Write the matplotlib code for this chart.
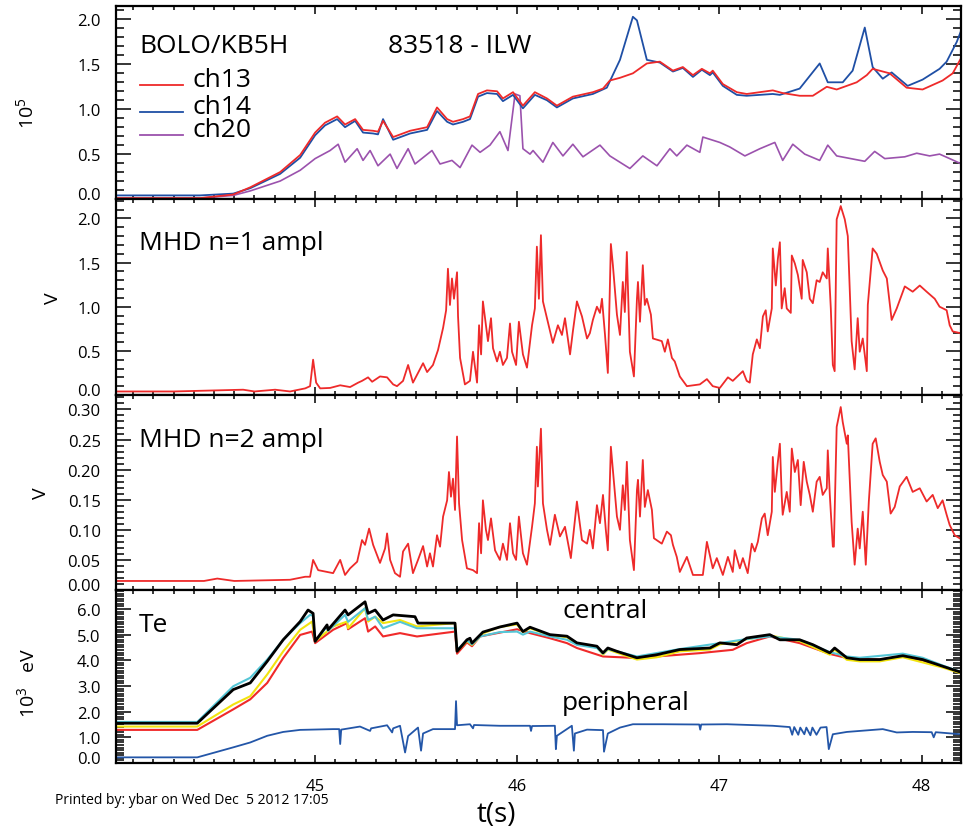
import numpy as np
import matplotlib
matplotlib.use("Agg")
import matplotlib.pyplot as plt
from matplotlib.ticker import MultipleLocator, FormatStrFormatter

plt.rcParams['font.family'] = ['Open Sans', 'DejaVu Sans']
plt.rcParams['mathtext.fontset'] = 'custom'
plt.rcParams['mathtext.rm'] = 'Open Sans'

# ---------------- bolometer channels (units of 1e5) ----------------
ch13_t = [44.016, 44.43, 44.595, 44.679, 44.827, 44.926, 45.0, 45.049, 45.109, 45.148, 45.198,
          45.237, 45.287, 45.311, 45.336, 45.386, 45.47, 45.554, 45.603, 45.653, 45.682, 45.732,
          45.766, 45.806, 45.85, 45.9, 45.929, 45.979, 46.028, 46.087, 46.147, 46.196, 46.275,
          46.374, 46.424, 46.458, 46.508, 46.572, 46.641, 46.705, 46.77, 46.819, 46.869, 46.913,
          46.953, 46.967, 47.017, 47.086, 47.135, 47.264, 47.313, 47.397, 47.462, 47.531, 47.58,
          47.679, 47.729, 47.758, 47.842, 47.926, 48.005, 48.104, 48.154, 48.193]
ch13_v = [0.01, 0.01, 0.05, 0.13, 0.30, 0.49, 0.74, 0.85, 0.92, 0.83, 0.89,
          0.77, 0.76, 0.75, 0.87, 0.69, 0.76, 0.80, 1.02, 0.89, 0.86, 0.89,
          0.92, 1.17, 1.21, 1.20, 1.12, 1.19, 1.04, 1.19, 1.12, 1.04, 1.14,
          1.19, 1.23, 1.32, 1.35, 1.40, 1.51, 1.53, 1.43, 1.47, 1.38, 1.45,
          1.40, 1.43, 1.28, 1.19, 1.17, 1.21, 1.18, 1.15, 1.15, 1.25, 1.22,
          1.30, 1.38, 1.45, 1.40, 1.24, 1.22, 1.32, 1.40, 1.56]

ch14_t = [44.016, 44.43, 44.595, 44.679, 44.827, 44.926, 45.0, 45.049, 45.109, 45.148, 45.198,
          45.237, 45.287, 45.311, 45.336, 45.386, 45.47, 45.554, 45.603, 45.653, 45.682, 45.732,
          45.766, 45.806, 45.85, 45.9, 45.929, 45.979, 46.028, 46.087, 46.147, 46.196, 46.275,
          46.374, 46.443, 46.508, 46.572, 46.592, 46.641, 46.705, 46.77, 46.819, 46.869, 46.913,
          46.953, 46.967, 47.017, 47.086, 47.135, 47.264, 47.299, 47.397, 47.496, 47.536, 47.61,
          47.659, 47.719, 47.758, 47.808, 47.852, 47.931, 48.005, 48.089, 48.124, 48.174, 48.193]
ch14_v = [0.04, 0.04, 0.06, 0.12, 0.28, 0.46, 0.71, 0.82, 0.89, 0.80, 0.87,
          0.74, 0.73, 0.72, 0.89, 0.66, 0.73, 0.77, 0.98, 0.86, 0.83, 0.86,
          0.89, 1.14, 1.18, 1.17, 1.09, 1.16, 1.01, 1.16, 1.10, 1.02, 1.12,
          1.17, 1.24, 1.55, 2.03, 1.99, 1.55, 1.52, 1.42, 1.46, 1.36, 1.44,
          1.38, 1.41, 1.26, 1.16, 1.15, 1.17, 1.16, 1.23, 1.51, 1.30, 1.30,
          1.43, 1.91, 1.47, 1.34, 1.41, 1.26, 1.33, 1.45, 1.53, 1.75, 1.86]

ch20_t = [44.016, 44.43, 44.595, 44.679, 44.827, 44.926, 45.0, 45.074, 45.114, 45.148, 45.208,
          45.237, 45.272, 45.311, 45.371, 45.405, 45.46, 45.494, 45.578, 45.618, 45.677, 45.717,
          45.776, 45.816, 45.865, 45.914, 45.954, 45.989, 46.013, 46.028, 46.063, 46.078, 46.127,
          46.176, 46.226, 46.275, 46.325, 46.409, 46.458, 46.557, 46.621, 46.691, 46.755, 46.789,
          46.839, 46.903, 46.918, 47.002, 47.051, 47.126, 47.2, 47.274, 47.313, 47.363, 47.422,
          47.496, 47.536, 47.58, 47.719, 47.768, 47.818, 47.917, 47.976, 48.04, 48.089, 48.139, 48.188]
ch20_v = [0.01, 0.01, 0.04, 0.09, 0.20, 0.32, 0.45, 0.54, 0.61, 0.41, 0.56,
          0.43, 0.54, 0.37, 0.50, 0.34, 0.56, 0.39, 0.54, 0.39, 0.43, 0.35,
          0.60, 0.52, 0.60, 0.75, 0.54, 1.17, 1.15, 0.56, 0.50, 0.54, 0.41,
          0.63, 0.48, 0.61, 0.47, 0.60, 0.48, 0.34, 0.48, 0.37, 0.56, 0.48,
          0.60, 0.52, 0.69, 0.63, 0.58, 0.48, 0.56, 0.63, 0.43, 0.61, 0.50,
          0.43, 0.60, 0.48, 0.42, 0.53, 0.45, 0.47, 0.51, 0.48, 0.50, 0.45, 0.40]

# ---------------- MHD n=1 amplitude (V) ----------------
n1_t = [44.016, 44.3, 44.644, 44.7, 44.802, 44.876, 44.951, 44.975, 44.99, 45.005, 45.025,
        45.074, 45.124, 45.173, 45.213, 45.232, 45.262, 45.282, 45.321, 45.356, 45.386, 45.405,
        45.435, 45.46, 45.484, 45.534, 45.554, 45.583, 45.608, 45.633, 45.648, 45.657, 45.667,
        45.677, 45.687, 45.702, 45.707, 45.717, 45.741, 45.766, 45.781, 45.801, 45.811, 45.821,
        45.83, 45.845, 45.855, 45.87, 45.88, 45.9, 45.914, 45.929, 45.949, 45.964, 45.974,
        45.994, 46.008, 46.028, 46.048, 46.073, 46.087, 46.097, 46.107, 46.117, 46.127, 46.147,
        46.176, 46.201, 46.221, 46.236, 46.261, 46.275, 46.295, 46.32, 46.345, 46.359, 46.374,
        46.394, 46.409, 46.419, 46.434, 46.448, 46.463, 46.473, 46.493, 46.508, 46.522, 46.532,
        46.542, 46.557, 46.577, 46.592, 46.597, 46.607, 46.621, 46.631, 46.641, 46.661, 46.671,
        46.715, 46.73, 46.745, 46.765, 46.779, 46.804, 46.839, 46.903, 46.938, 46.967, 47.002,
        47.042, 47.066, 47.116, 47.135, 47.15, 47.165, 47.185, 47.2, 47.215, 47.229, 47.239,
        47.259, 47.264, 47.279, 47.289, 47.299, 47.308, 47.323, 47.333, 47.353, 47.358, 47.373,
        47.388, 47.407, 47.412, 47.432, 47.447, 47.462, 47.481, 47.496, 47.511, 47.531, 47.536,
        47.551, 47.561, 47.57, 47.58, 47.6, 47.62, 47.635, 47.654, 47.669, 47.684, 47.694,
        47.709, 47.729, 47.734, 47.758, 47.778, 47.808, 47.828, 47.852, 47.877, 47.917, 47.956,
        47.991, 48.025, 48.065, 48.089, 48.124, 48.139, 48.154, 48.193]
n1_v = [0.04, 0.04, 0.06, 0.04, 0.06, 0.04, 0.075, 0.10, 0.40, 0.14, 0.075,
        0.08, 0.11, 0.09, 0.14, 0.16, 0.20, 0.15, 0.21, 0.20, 0.12, 0.10,
        0.16, 0.34, 0.14, 0.36, 0.26, 0.34, 0.51, 0.76, 0.96, 1.43, 1.02,
        1.32, 1.09, 1.39, 0.89, 0.42, 0.12, 0.16, 0.49, 0.14, 0.79, 0.46,
        1.06, 0.79, 0.61, 0.87, 0.53, 0.38, 0.49, 0.34, 0.42, 0.81, 0.49,
        0.34, 0.83, 0.46, 0.31, 0.79, 0.98, 1.68, 1.09, 1.81, 1.06, 0.87,
        0.59, 0.79, 0.68, 0.87, 0.46, 0.72, 1.06, 0.89, 0.64, 0.70, 0.85,
        1.00, 0.93, 1.09, 0.68, 0.25, 1.71, 1.47, 0.91, 0.68, 1.28, 0.94,
        1.62, 0.49, 0.21, 1.09, 1.28, 0.83, 1.47, 1.02, 1.09, 0.91, 0.64,
        0.61, 0.49, 0.63, 0.42, 0.38, 0.21, 0.10, 0.12, 0.18, 0.10, 0.08,
        0.20, 0.16, 0.27, 0.16, 0.14, 0.46, 0.63, 0.53, 0.89, 0.96, 0.72,
        0.98, 1.66, 1.24, 1.54, 1.73, 0.98, 1.21, 0.98, 0.93, 1.58, 1.49,
        1.36, 1.09, 1.53, 1.39, 1.09, 1.04, 1.30, 1.28, 1.39, 1.32, 1.66,
        0.98, 0.34, 0.27, 1.99, 2.14, 1.99, 1.80, 0.61, 0.29, 0.87, 0.49,
        0.64, 0.27, 1.02, 1.66, 1.60, 1.41, 1.32, 0.85, 0.98, 1.23, 1.17,
        1.24, 1.17, 1.09, 1.00, 0.96, 0.79, 0.72, 0.70]

# ---------------- MHD n=2 amplitude (V) ----------------
n2_t = [44.016, 44.45, 44.516, 44.6, 44.876, 44.951, 44.975, 44.99, 45.015, 45.089, 45.124,
        45.148, 45.173, 45.208, 45.232, 45.247, 45.267, 45.287, 45.321, 45.346, 45.356, 45.371,
        45.395, 45.42, 45.435, 45.46, 45.484, 45.509, 45.534, 45.554, 45.568, 45.583, 45.603,
        45.618, 45.633, 45.653, 45.662, 45.672, 45.682, 45.692, 45.702, 45.712, 45.727, 45.751,
        45.781, 45.801, 45.811, 45.821, 45.83, 45.845, 45.855, 45.87, 45.89, 45.914, 45.929,
        45.949, 45.964, 45.979, 45.994, 46.008, 46.028, 46.048, 46.073, 46.087, 46.097, 46.102,
        46.117, 46.127, 46.147, 46.162, 46.186, 46.211, 46.236, 46.265, 46.295, 46.32, 46.345,
        46.359, 46.374, 46.394, 46.409, 46.424, 46.438, 46.448, 46.463, 46.473, 46.493, 46.508,
        46.522, 46.532, 46.542, 46.557, 46.577, 46.592, 46.597, 46.607, 46.621, 46.631, 46.646,
        46.666, 46.676, 46.715, 46.74, 46.76, 46.77, 46.789, 46.804, 46.839, 46.869, 46.918,
        46.938, 46.967, 46.987, 47.017, 47.042, 47.066, 47.076, 47.101, 47.116, 47.14, 47.16,
        47.175, 47.19, 47.21, 47.224, 47.239, 47.259, 47.264, 47.274, 47.289, 47.299, 47.308,
        47.313, 47.333, 47.348, 47.358, 47.373, 47.388, 47.402, 47.417, 47.432, 47.447, 47.462,
        47.481, 47.496, 47.511, 47.531, 47.536, 47.546, 47.561, 47.566, 47.58, 47.6, 47.61,
        47.63, 47.635, 47.654, 47.669, 47.684, 47.694, 47.709, 47.724, 47.739, 47.758, 47.773,
        47.793, 47.808, 47.828, 47.847, 47.867, 47.892, 47.926, 47.956, 47.991, 48.025, 48.055,
        48.08, 48.104, 48.124, 48.139, 48.164, 48.188]
n2_v = [0.015, 0.015, 0.019, 0.015, 0.017, 0.022, 0.022, 0.05, 0.033, 0.028, 0.05,
        0.025, 0.036, 0.047, 0.083, 0.075, 0.102, 0.075, 0.045, 0.069, 0.094, 0.05,
        0.028, 0.022, 0.064, 0.077, 0.028, 0.05, 0.073, 0.039, 0.061, 0.039, 0.091,
        0.072, 0.122, 0.149, 0.196, 0.155, 0.185, 0.133, 0.255, 0.144, 0.083, 0.036,
        0.033, 0.028, 0.111, 0.061, 0.149, 0.10, 0.083, 0.119, 0.066, 0.05, 0.077,
        0.05, 0.111, 0.061, 0.05, 0.122, 0.061, 0.042, 0.105, 0.144, 0.238, 0.172,
        0.268, 0.144, 0.10, 0.075, 0.125, 0.089, 0.105, 0.053, 0.147, 0.083, 0.077,
        0.10, 0.069, 0.141, 0.111, 0.158, 0.10, 0.066, 0.238, 0.199, 0.122, 0.10,
        0.174, 0.133, 0.213, 0.083, 0.033, 0.166, 0.183, 0.122, 0.216, 0.138, 0.166,
        0.133, 0.086, 0.077, 0.097, 0.091, 0.075, 0.055, 0.03, 0.055, 0.025, 0.025,
        0.08, 0.036, 0.053, 0.025, 0.055, 0.03, 0.066, 0.036, 0.053, 0.028, 0.077,
        0.064, 0.08, 0.119, 0.127, 0.091, 0.13, 0.221, 0.163, 0.213, 0.243, 0.158,
        0.125, 0.163, 0.13, 0.235, 0.196, 0.216, 0.141, 0.213, 0.18, 0.158, 0.13,
        0.18, 0.188, 0.158, 0.169, 0.232, 0.158, 0.072, 0.072, 0.271, 0.304, 0.279,
        0.243, 0.257, 0.113, 0.042, 0.102, 0.069, 0.13, 0.042, 0.147, 0.243, 0.252,
        0.213, 0.191, 0.18, 0.127, 0.138, 0.172, 0.188, 0.163, 0.169, 0.147, 0.158,
        0.136, 0.149, 0.125, 0.108, 0.091, 0.086]

# ---------------- electron temperature (1e3 eV) ----------------
te_black_t = [44.016, 44.417, 44.595, 44.679, 44.763, 44.842, 44.926, 44.965, 44.99, 45.0, 45.059,
              45.064, 45.148, 45.163, 45.247, 45.262, 45.297, 45.336, 45.386, 45.494, 45.509, 45.692,
              45.702, 45.751, 45.766, 45.776, 45.83, 45.914, 45.999, 46.028, 46.063, 46.162, 46.246,
              46.295, 46.394, 46.424, 46.448, 46.493, 46.592, 46.691, 46.804, 46.953, 47.002, 47.086,
              47.135, 47.249, 47.299, 47.397, 47.462, 47.546, 47.57, 47.63, 47.694, 47.793, 47.907,
              48.005, 48.104, 48.193]
te_black_v = [1.55, 1.55, 2.86, 3.12, 3.96, 4.80, 5.51, 5.96, 5.83, 4.74, 5.38,
              5.19, 5.96, 5.77, 6.28, 5.83, 5.96, 5.57, 5.77, 5.70, 5.45, 5.45,
              4.35, 4.80, 4.86, 4.67, 5.10, 5.30, 5.45, 5.12, 5.29, 5.00, 4.94,
              4.68, 4.55, 4.29, 4.48, 4.35, 4.10, 4.22, 4.42, 4.48, 4.68, 4.61,
              4.87, 5.00, 4.80, 4.80, 4.61, 4.29, 4.48, 4.10, 4.03, 4.03, 4.18,
              4.03, 3.77, 3.54]

te_cyan_t = [44.016, 44.417, 44.595, 44.679, 44.763, 44.842, 44.926, 44.975, 44.99, 45.0, 45.059,
             45.064, 45.148, 45.163, 45.247, 45.262, 45.297, 45.336, 45.42, 45.504, 45.692, 45.702,
             45.751, 45.776, 45.816, 45.914, 45.999, 46.028, 46.063, 46.162, 46.246, 46.295, 46.394,
             46.424, 46.448, 46.592, 46.804, 47.002, 47.135, 47.249, 47.397, 47.546, 47.63, 47.694,
             47.907, 48.005, 48.104, 48.193]
te_cyan_v = [1.60, 1.60, 2.99, 3.32, 4.03, 4.80, 5.45, 5.77, 5.74, 4.74, 5.32,
             5.15, 5.77, 5.50, 6.03, 5.57, 5.70, 5.25, 5.50, 5.25, 5.25, 4.41,
             4.78, 4.62, 4.93, 5.10, 5.12, 5.00, 5.12, 4.93, 4.80, 4.60, 4.48,
             4.26, 4.44, 4.15, 4.44, 4.67, 4.83, 4.93, 4.80, 4.32, 4.15, 4.10,
             4.26, 4.10, 3.80, 3.55]

te_yellow_t = [44.016, 44.417, 44.595, 44.679, 44.763, 44.842, 44.926, 44.985, 45.0, 45.089, 45.158,
               45.163, 45.247, 45.262, 45.297, 45.336, 45.42, 45.504, 45.692, 45.702, 45.751, 45.776,
               45.83, 45.914, 45.999, 46.028, 46.063, 46.162, 46.246, 46.295, 46.394, 46.424, 46.448,
               46.592, 46.691, 46.804, 46.953, 47.002, 47.135, 47.249, 47.397, 47.546, 47.57, 47.63,
               47.694, 47.793, 47.907, 48.005, 48.104, 48.193]
te_yellow_v = [1.42, 1.42, 2.28, 2.60, 3.45, 4.35, 5.19, 5.51, 4.74, 5.32, 5.51,
               5.25, 6.03, 5.51, 5.70, 5.45, 5.57, 5.32, 5.45, 4.35, 4.75, 4.60,
               5.05, 5.30, 5.40, 5.10, 5.25, 4.98, 4.90, 4.64, 4.50, 4.22, 4.42,
               4.03, 4.12, 4.35, 4.42, 4.62, 4.82, 4.97, 4.75, 4.22, 4.42, 4.02,
               3.96, 3.96, 4.12, 3.92, 3.72, 3.50]

te_red_t = [44.016, 44.417, 44.595, 44.679, 44.763, 44.842, 44.926, 44.985, 45.0, 45.089, 45.158,
            45.163, 45.247, 45.262, 45.297, 45.336, 45.42, 45.504, 45.692, 45.702, 45.751, 45.776,
            45.816, 45.999, 46.063, 46.162, 46.246, 46.295, 46.424, 46.592, 46.804, 46.903, 47.066,
            47.135, 47.249, 47.397, 47.546, 47.63, 47.793, 47.907, 48.005, 48.104, 48.193]
te_red_v = [1.29, 1.29, 2.09, 2.48, 3.12, 4.09, 4.99, 5.12, 4.67, 5.19, 5.45,
            5.21, 5.64, 5.12, 5.32, 4.93, 5.06, 4.93, 5.12, 4.26, 4.70, 4.55,
            4.93, 5.21, 5.06, 4.86, 4.67, 4.48, 4.15, 4.09, 4.22, 4.28, 4.41,
            4.67, 4.93, 4.67, 4.25, 4.09, 4.03, 4.15, 4.00, 3.75, 3.52]

te_per_t = [44.016, 44.417, 44.595, 44.679, 44.763, 44.842, 44.926, 45.089, 45.119, 45.124, 45.129,
            45.222, 45.272, 45.277, 45.356, 45.381, 45.386, 45.42, 45.445, 45.46, 45.509, 45.524,
            45.534, 45.583, 45.692, 45.697, 45.702, 45.766, 45.781, 45.786, 45.914, 46.063, 46.068,
            46.073, 46.186, 46.191, 46.196, 46.27, 46.28, 46.285, 46.345, 46.424, 46.429, 46.448,
            46.508, 46.572, 46.72, 46.9, 46.905, 46.91, 47.037, 47.264, 47.348, 47.36, 47.37,
            47.39, 47.4, 47.42, 47.43, 47.45, 47.46, 47.48, 47.5, 47.53, 47.541, 47.561,
            47.63, 47.808, 47.877, 47.956, 48.05, 48.06, 48.07, 48.193]
te_per_v = [0.22, 0.22, 0.61, 0.80, 1.06, 1.21, 1.29, 1.32, 1.32, 0.74, 1.30,
            1.42, 1.25, 1.35, 1.47, 1.19, 1.35, 1.45, 0.41, 1.05, 1.38, 0.48,
            1.15, 1.32, 1.32, 2.41, 1.47, 1.51, 1.35, 1.48, 1.45, 1.45, 1.25,
            1.44, 1.45, 0.54, 1.06, 1.45, 0.48, 1.15, 1.30, 1.28, 0.44, 1.15,
            1.38, 1.51, 1.51, 1.50, 1.30, 1.50, 1.51, 1.45, 1.40, 1.10, 1.40,
            1.10, 1.38, 1.12, 1.38, 1.08, 1.38, 1.10, 1.38, 1.40, 0.54, 1.12,
            1.21, 1.32, 1.19, 1.21, 1.20, 1.00, 1.20, 1.12]

x_major = [45, 46, 47, 48]
x_labels = ['45', '46', '47', '48']

RED = '#ee2a2a'
BLUE = '#1f4fa5'
PURPLE = '#9b52ad'

W, H = 966, 829
fig = plt.figure(figsize=(W / 100, H / 100), dpi=100)


def box(top, bottom):
    left, right = 116, 961
    return [left / W, 1 - bottom / H, (right - left) / W, (bottom - top) / H]


ax1 = fig.add_axes(box(7, 200))
ax2 = fig.add_axes(box(200, 396))
ax3 = fig.add_axes(box(396, 591))
ax4 = fig.add_axes(box(591, 764))
axes = [ax1, ax2, ax3, ax4]

ax1.plot(ch20_t, ch20_v, color=PURPLE, lw=1.2)
ax1.plot(ch14_t, ch14_v, color=BLUE, lw=1.3)
ax1.plot(ch13_t, ch13_v, color=RED, lw=1.3)

ax2.plot(n1_t, n1_v, color=RED, lw=1.3)
ax3.plot(n2_t, n2_v, color=RED, lw=1.3)

ax4.plot(te_per_t, te_per_v, color='#2356a8', lw=1.3)
ax4.plot(te_red_t, te_red_v, color='#f02a2a', lw=1.5)
ax4.plot(te_yellow_t, te_yellow_v, color='#f2e40e', lw=1.5)
ax4.plot(te_cyan_t, te_cyan_v, color='#55c6d6', lw=1.5)
ax4.plot(te_black_t, te_black_v, color='black', lw=2.0)

ylims = [(0.0, 2.15), (0.0, 2.22), (0.0, 0.324), (0.0, 6.74)]
yticks = [np.arange(0, 2.01, 0.5), np.arange(0, 2.01, 0.5),
          np.arange(0, 0.301, 0.05), np.arange(0, 6.01, 1.0)]
yminor = [0.1, 0.1, 0.01, 0.1]
yfmt = ['%.1f', '%.1f', '%.2f', '%.1f']

for ax, yl, yt, ym, yf in zip(axes, ylims, yticks, yminor, yfmt):
    ax.set_xlim(44.015, 48.195)
    ax.set_ylim(*yl)
    ax.set_yticks(yt)
    ax.yaxis.set_minor_locator(MultipleLocator(ym))
    ax.yaxis.set_major_formatter(FormatStrFormatter(yf))
    ax.set_xticks(x_major)
    ax.xaxis.set_minor_locator(MultipleLocator(0.1))
    ax.tick_params(which='both', direction='in', top=True, right=True, width=1.1)
    ax.tick_params(axis='y', which='major', length=11, labelsize=12, pad=11)
    ax.tick_params(axis='y', which='minor', length=6)
    ax.tick_params(axis='x', which='major', length=6, labelsize=12, pad=11)
    ax.tick_params(axis='x', which='minor', length=3)
    for s in ax.spines.values():
        s.set_linewidth(1.6)
    ax.yaxis.get_major_ticks()[0].label1.set_verticalalignment('baseline')
    if ax is not ax4:
        ax.tick_params(axis='x', labelbottom=False)

ax4.set_xticklabels(x_labels)

# axis titles
ax1.set_ylabel(r'$\mathregular{10^5}$', fontsize=14)
ax1.yaxis.set_label_coords(-0.093, 0.45)
ax2.set_ylabel('V', fontsize=14)
ax2.yaxis.set_label_coords(-0.064, 0.5)
ax3.set_ylabel('V', fontsize=14)
ax3.yaxis.set_label_coords(-0.078, 0.5)
ax4.set_ylabel(r'$\mathregular{10^3}$   eV', fontsize=14)
ax4.yaxis.set_label_coords(-0.092, 0.47)


def ftext(x, y, s, **kw):
    fig.text(x / W, 1 - y / H, s, **kw)


big = 19
ftext(139, 53, 'BOLO/KB5H', fontsize=big, va='baseline')
ftext(388, 53, '83518 - ILW', fontsize=big, va='baseline')

# channel key
for name, col, yline in [('ch13', RED, 86), ('ch14', BLUE, 113), ('ch20', PURPLE, 136)]:
    fig.add_artist(plt.Line2D([140 / W, 183 / W], [1 - yline / H, 1 - yline / H],
                              color=col, lw=1.3))
    ftext(193, yline + 1, name, fontsize=big, va='baseline')

ftext(139, 250, 'MHD n=1 ampl', fontsize=big, va='baseline')
ftext(139, 447, 'MHD n=2 ampl', fontsize=big, va='baseline')
ftext(139, 632, 'Te', fontsize=big, va='baseline')
ftext(562, 618, 'central', fontsize=big, va='baseline')
ftext(562, 710, 'peripheral', fontsize=big, va='baseline')

ftext(496, 815, 't(s)', fontsize=20, ha='center', va='center')
ftext(55, 801, 'Printed by: ybar on Wed Dec  5 2012 17:05', fontsize=10, va='center')

fig.savefig('out.png', dpi=100)
